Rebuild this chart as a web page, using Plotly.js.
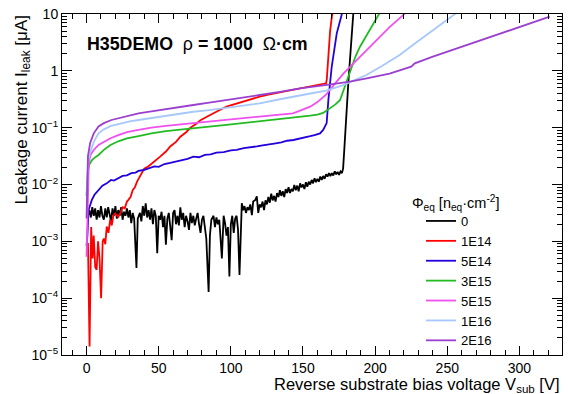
<!DOCTYPE html>
<html>
<head>
<meta charset="utf-8">
<script src="https://cdn.plot.ly/plotly-3.0.1.min.js"></script>
<style>html,body{margin:0;padding:0;background:#fff;}#chart{width:568px;height:394px;}</style>
</head>
<body>
<div id="chart"></div>
<script>
// Values: bias voltage V [V] and log10 of leakage current [uA]
const seriesNames = ["0", "1E14", "5E14", "3E15", "5E15", "1E16", "2E16"];
const seriesColors = ["#000000", "#ff0000", "#2200dd", "#22bb22", "#f050f0", "#a6c8fa", "#9b3fcf"];

const V_0 = [1,2,3,4,5,6,7,8,9,10,
  11,12,13,14,15,16,17,18,19,20,
  21,22,23,24,25,26,27,28,29,30,
  31,32,33,34.6,35.5,37,38,39,40,41,
  42,43,44,45,46,47,48,49,50,51,
  52,53,54,55,56,57,58,59,60,61,
  62,63,64,65,66,67,68,69,70,71,
  72,73,74,75,76,77,78,79,80,81,
  82,83,84.6,85.5,86.5,88,89,90,91,92,
  93.8,95,96,97,98,99,100,101,102,103,
  104,105,106,107.6,108.5,109.5,110.5,111.5,112.5,113.5,
  114.6,115.5,117,118,119,120,121,122,123,124,
  125,126,127,128,129,130,131,132,133,134,
  135,136,137,138,139,140,141,142,143,144,
  145,146,147,148,149,150,151,152,153,154,
  155,156,157,158,159,160,161,162,163,164,
  165,166,167,168,169,170,171,172,173,174,
  175,176,177,177.8,178.6,179.2,180.2,181.4,183,184.9,186];
const logI_0 = [-2.55,-2.45,-2.58,-2.40,-2.55,-2.42,-2.62,-2.45,-2.58,-2.38,
  -2.55,-2.62,-2.42,-2.58,-2.40,-2.52,-2.65,-2.42,-2.55,-2.38,
  -2.60,-2.45,-2.55,-2.40,-2.62,-2.48,-2.55,-2.42,-2.58,-2.45,
  -2.68,-2.50,-2.60,-3.47,-2.60,-2.50,-2.65,-2.38,-2.55,-2.33,
  -2.58,-2.45,-2.62,-2.42,-2.70,-2.45,-2.55,-3.21,-2.55,-2.62,
  -2.48,-2.75,-2.55,-3.06,-2.60,-2.50,-2.75,-2.98,-2.50,-2.45,
  -2.70,-2.55,-2.72,-2.40,-2.62,-2.50,-2.75,-2.55,-2.65,-2.80,
  -2.50,-2.68,-2.55,-2.72,-2.60,-2.50,-2.70,-2.85,-2.62,-2.55,
  -2.75,-2.95,-3.89,-2.90,-2.62,-2.55,-2.75,-2.58,-2.70,-2.62,
  -3.30,-2.55,-2.68,-2.90,-2.75,-3.62,-2.70,-2.55,-2.85,-2.60,
  -2.55,-2.80,-3.59,-2.33,-2.45,-2.38,-2.50,-2.40,-2.45,-2.35,
  -2.54,-2.30,-2.27,-2.21,-2.50,-2.35,-2.40,-2.30,-2.45,-2.28,
  -2.35,-2.22,-2.32,-2.16,-2.28,-2.20,-2.30,-2.15,-2.22,-2.10,
  -2.20,-2.12,-2.22,-2.08,-2.15,-2.05,-2.15,-2.08,-2.12,-2.01,
  -2.10,-2.02,-2.12,-1.98,-2.05,-2.00,-2.08,-1.96,-2.04,-1.95,
  -2.00,-1.92,-1.98,-1.89,-1.96,-1.90,-1.95,-1.86,-1.92,-1.85,
  -1.90,-1.82,-1.86,-1.80,-1.85,-1.80,-1.84,-1.77,-1.82,-1.78,
  -1.83,-1.77,-1.80,-1.72,-1.40,-1.10,-0.66,-0.22,0.35,1.00,1.40];

const V_1E14 = [1.0,2.1,3.2,4.2,5.0,6.0,7.0,8.0,9.0,10.1,11.2,12.0,13.0,14.0,15.2,16.4,17.5,18.6,19.8,21,
  22,23.5,25,26.5,28,29,30.5,32,33.5,35,37,40,43,46,49,51,55,58,62,65,
  69,72,76,79,84,88,93,97,102,108,114,120,126,132,138,143,149,155,160,166,
  166.5,167.6,168.8,170,171.5];
const logI_1E14 = [-3.03,-4.85,-2.75,-3.30,-2.90,-3.45,-3.50,-3.00,-3.30,-4.00,-3.00,-2.95,-3.05,-2.74,-2.85,-2.62,-2.72,-2.55,-2.51,-2.55,
  -2.57,-2.50,-2.40,-2.42,-2.30,-2.27,-2.22,-2.10,-2.05,-1.95,-1.85,-1.72,-1.68,-1.62,-1.55,-1.51,-1.42,-1.33,-1.25,-1.16,
  -1.08,-1.00,-0.93,-0.87,-0.80,-0.74,-0.68,-0.63,-0.59,-0.54,-0.50,-0.455,-0.42,-0.39,-0.36,-0.337,-0.31,-0.28,-0.25,-0.22,
  -0.15,0.37,0.70,0.95,1.15];

const V_5E14 = [0,0.6,1.4,2.5,3.7,5.5,8.3,11,14,17,19,22,25,28,31,34,36,39.6,43,47,
  50,54,58,62,66,70,74,78,82,86,90,95,100,104,109,114,118,122,126,130,
  135,139,143.4,147,151,155,158,161.8,164,165.3,166.4,167.6,169.9,173.4,176.8,178];
const logI_5E14 = [-3.08,-2.90,-2.45,-2.35,-2.27,-2.18,-2.10,-2.02,-1.98,-1.92,-1.93,-1.89,-1.85,-1.84,-1.80,-1.79,-1.76,-1.745,-1.72,-1.68,
  -1.69,-1.64,-1.62,-1.60,-1.58,-1.55,-1.51,-1.52,-1.48,-1.47,-1.44,-1.43,-1.40,-1.39,-1.36,-1.35,-1.33,-1.31,-1.30,-1.28,
  -1.26,-1.23,-1.217,-1.20,-1.17,-1.15,-1.13,-1.10,-1.04,-0.98,-0.92,-0.51,0.07,0.66,1.01,1.10];

const V_3E15 = [0,1.0,2.0,3.5,5,8.3,12,16.6,22,28,36,45,55,65,74,85,97,108,120,134,
  148,155,160,164,166.4,170,172.5,175.7,178,180.3,183.7,186.5,189.5,193,197,202,205];
const logI_3E15 = [-2.20,-1.75,-1.65,-1.58,-1.54,-1.48,-1.39,-1.305,-1.24,-1.19,-1.15,-1.10,-1.06,-1.03,-1.01,-0.98,-0.95,-0.92,-0.895,-0.855,
  -0.807,-0.79,-0.77,-0.74,-0.70,-0.64,-0.59,-0.513,-0.35,-0.161,0.073,0.26,0.425,0.58,0.75,0.98,1.10];

const V_5E15 = [0,0.8,1.6,3,5,8.3,12,16.6,22,28,36,45,55,65,74,85,97,108,120,132,
  143,148,155,160,166,171,178,185,193,201,210,219.4,222];
const logI_5E15 = [-3.27,-2.20,-1.60,-1.47,-1.393,-1.305,-1.25,-1.187,-1.13,-1.08,-1.04,-1.00,-0.97,-0.945,-0.923,-0.895,-0.865,-0.835,-0.807,-0.78,
  -0.747,-0.70,-0.63,-0.55,-0.42,-0.26,-0.05,0.13,0.34,0.54,0.77,0.98,1.05];

const V_1E16 = [0.3,1.0,2.8,5,8.3,12,17,24,30,36,45,55,65,74,85,97,108,120,134,148,
  157,166,172,178,185,194,205,217,228,240,254,257];
const logI_1E16 = [-2.20,-1.60,-1.42,-1.25,-1.10,-1.03,-0.97,-0.92,-0.89,-0.865,-0.83,-0.80,-0.765,-0.72,-0.69,-0.65,-0.61,-0.571,-0.50,-0.425,
  -0.39,-0.35,-0.30,-0.25,-0.17,-0.073,0.09,0.278,0.49,0.718,0.98,1.03];

const V_2E16 = [0,0.5,1.0,2.5,5,8.3,12,17.3,24,30,36,45,55,65,74,85,97,108,120,134,
  148,166.7,182.6,195,210,225,226,227.5,240,255,270,285,300,310,321];
const logI_2E16 = [-2.60,-2.00,-1.50,-1.27,-1.10,-0.98,-0.92,-0.865,-0.82,-0.78,-0.747,-0.715,-0.68,-0.64,-0.601,-0.56,-0.51,-0.47,-0.425,-0.37,
  -0.31,-0.249,-0.191,-0.13,-0.05,0.073,0.10,0.132,0.25,0.38,0.51,0.64,0.77,0.86,0.953];

const yTickVals = [1e-5, 1e-4, 1e-3, 1e-2, 1e-1, 1, 10];
const yTickText = ["10<sup>\u22125</sup>", "10<sup>\u22124</sup>", "10<sup>\u22123</sup>", "10<sup>\u22122</sup>", "10<sup>\u22121</sup>", "1", "10"];

const allV = [V_0, V_1E14, V_5E14, V_3E15, V_5E15, V_1E16, V_2E16];
const allLogI = [logI_0, logI_1E14, logI_5E14, logI_3E15, logI_5E15, logI_1E16, logI_2E16];

const traces = allV.map((v, i) => ({
  x: v,
  y: allLogI[i].map(l => Math.pow(10, l)),
  type: "scatter",
  mode: "lines",
  name: seriesNames[i],
  line: {color: seriesColors[i], width: 1.8},
  hoverinfo: "skip"
}));

const minorY = [];
for (let e = -5; e < 1; e++) { for (let m = 2; m <= 9; m++) { minorY.push(m * Math.pow(10, e)); } }

const FONT = "Liberation Sans, Arial, Helvetica, sans-serif";

const layout = {
  width: 568, height: 394,
  margin: {l: 62, r: 6, t: 14, b: 39, pad: 0},
  paper_bgcolor: "#ffffff", plot_bgcolor: "#ffffff",
  font: {family: FONT, color: "#000000"},
  showlegend: true,
  legend: {
    x: 0.718, y: 0.437, xanchor: "left", yanchor: "top",
    bgcolor: "rgba(0,0,0,0)", borderwidth: 0,
    font: {family: FONT, size: 13, color: "#000000"},
    itemwidth: 30, tracegroupgap: 0
  },
  xaxis: {
    range: [-17, 329.5], showgrid: false, zeroline: false,
    showline: true, linecolor: "#000000", linewidth: 1, mirror: "ticks",
    ticks: "inside", ticklen: 9, tickwidth: 1, tickcolor: "#000000",
    tick0: 0, dtick: 50,
    tickfont: {family: FONT, size: 14, color: "#000000"},
    minor: {ticks: "inside", ticklen: 5, tickwidth: 1, tickcolor: "#000000", tick0: 0, dtick: 10, showgrid: false}
  },
  yaxis: {
    type: "log", range: [-5, 1], showgrid: false, zeroline: false,
    showline: true, linecolor: "#000000", linewidth: 1, mirror: "ticks",
    ticks: "inside", ticklen: 10, tickwidth: 1, tickcolor: "#000000",
    tickmode: "array", tickvals: yTickVals, ticktext: yTickText,
    tickfont: {family: FONT, size: 14, color: "#000000"},
    minor: {ticks: "inside", ticklen: 5, tickwidth: 1, tickcolor: "#000000", tickmode: "array", tickvals: minorY, showgrid: false}
  },
  annotations: [
    {xref: "paper", yref: "paper", x: 0.046, y: 0.912, xanchor: "left", yanchor: "middle", showarrow: false,
     text: "<b>H35DEMO</b>\u00a0\u00a0\u03c1<b> = 1000</b>\u00a0\u00a0\u03a9<b>\u00b7cm</b>",
     font: {family: FONT, size: 17.8, color: "#000000"}},
    {xref: "paper", yref: "paper", x: -0.08, y: 1.0, xanchor: "center", yanchor: "top", showarrow: false, textangle: -90,
     text: "Leakage current I<sub>leak</sub> [\u03bcA]",
     font: {family: FONT, size: 17, color: "#000000"}},
    {xref: "paper", yref: "paper", x: 1.0, y: -0.0515, xanchor: "right", yanchor: "top", showarrow: false,
     text: "Reverse substrate bias voltage V<sub>sub</sub> [V]",
     font: {family: FONT, size: 16.5, color: "#000000"}},
    {xref: "paper", yref: "paper", x: 0.696, y: 0.4457, xanchor: "left", yanchor: "middle", showarrow: false,
     text: "\u03a6<sub>eq</sub> [n<sub>eq</sub>\u00b7cm<sup>-2</sup>]",
     font: {family: FONT, size: 14.5, color: "#000000"}}
  ]
};

Plotly.newPlot("chart", traces, layout, {staticPlot: true, displayModeBar: false});
</script>
</body>
</html>
